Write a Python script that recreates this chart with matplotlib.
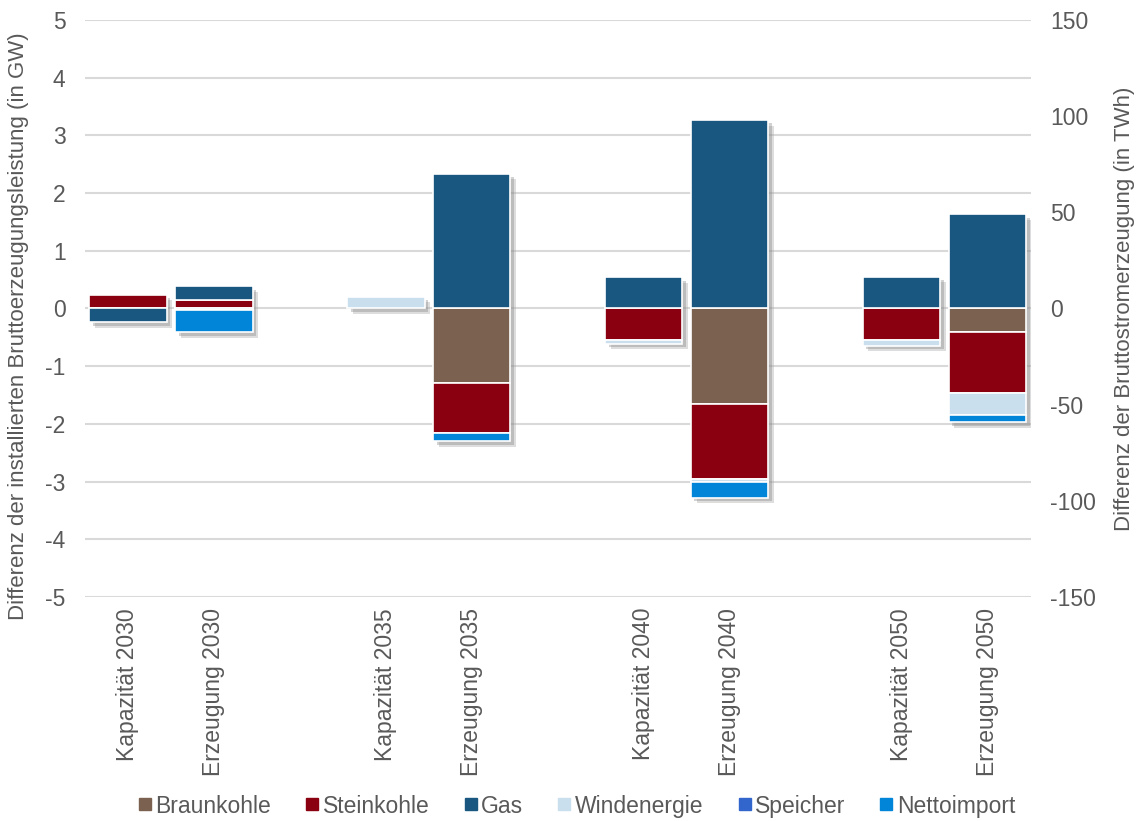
import matplotlib
matplotlib.use('Agg')
import matplotlib.pyplot as plt
import matplotlib.patheffects as pe
import numpy as np

plt.rcParams['font.family'] = ['Liberation Sans', 'DejaVu Sans']
plt.rcParams['axes.unicode_minus'] = False

# ---------------- data ----------------
categories = ['Kapazität 2030', 'Erzeugung 2030', '',
              'Kapazität 2035', 'Erzeugung 2035', '',
              'Kapazität 2040', 'Erzeugung 2040', '',
              'Kapazität 2050', 'Erzeugung 2050']
series = ['Braunkohle', 'Steinkohle', 'Gas', 'Windenergie', 'Speicher', 'Nettoimport']
colors = ['#7B6150', '#8A0010', '#1A5780', '#C9DFEE', '#3366CC', '#0085D8']

years = ['2030', '2035', '2040', '2050']
# Kapazität (GW), left axis
kap_braunkohle = [0.0, 0.0, 0.0, 0.0]
kap_steinkohle = [0.24, 0.0, -0.54, -0.55]
kap_gas = [-0.24, 0.0, 0.54, 0.55]
kap_wind = [0.0, 0.2, -0.07, -0.1]
kap_speicher = [0.0, 0.0, 0.0, 0.0]
kap_netto = [0.0, 0.0, 0.0, 0.0]
# Erzeugung (TWh), right axis
erz_braunkohle = [0.0, -39.0, -49.5, -12.0]
erz_steinkohle = [4.5, -26.0, -39.0, -32.0]
erz_gas = [7.0, 70.0, 98.0, 49.0]
erz_wind = [-1.0, 0.0, -1.5, -11.5]
erz_speicher = [0.0, 0.0, 0.0, 0.0]
erz_netto = [-11.5, -4.0, -8.5, -3.7]

left_ticks = [5, 4, 3, 2, 1, 0, -1, -2, -3, -4, -5]
right_ticks = [150, 100, 50, 0, -50, -100, -150]

kap_data = [kap_braunkohle, kap_steinkohle, kap_gas, kap_wind, kap_speicher, kap_netto]
erz_data = [erz_braunkohle, erz_steinkohle, erz_gas, erz_wind, erz_speicher, erz_netto]

kap_pos = [categories.index('Kapazität ' + y) for y in years]
erz_pos = [categories.index('Erzeugung ' + y) for y in years]

# ---------------- figure ----------------
fig = plt.figure(figsize=(11.42, 8.21), dpi=100)
ax1 = fig.add_axes([0.0744, 0.273, 0.828, 0.7026])
ax2 = ax1.twinx()

txt = '#595959'
FS = 16.5
W = 0.9


def draw_stack(ax, pos, data):
    arr = np.array(data, dtype=float)  # series x years
    pos_tot = np.where(arr > 0, arr, 0).sum(axis=0)
    neg_tot = np.where(arr < 0, arr, 0).sum(axis=0)
    # soft shadow of whole bar
    ax.bar(pos, pos_tot - neg_tot, bottom=neg_tot, width=W, color='white',
           edgecolor='none', zorder=1,
           path_effects=[pe.SimplePatchShadow(offset=(4, -4), shadow_rgbFace='#A0A0A0', alpha=0.35),
                         pe.SimplePatchShadow(offset=(2.5, -2.5), shadow_rgbFace='#808080', alpha=0.35),
                         pe.Normal()])
    pb = np.zeros(arr.shape[1])
    nb = np.zeros(arr.shape[1])
    for i, name in enumerate(series):
        v = arr[i]
        for j in range(len(v)):
            if v[j] == 0:
                continue
            if v[j] > 0:
                b = pb[j]
                pb[j] += v[j]
            else:
                b = nb[j]
                nb[j] += v[j]
            ax.bar(pos[j], v[j], bottom=b, width=W, color=colors[i],
                   edgecolor='white', linewidth=1.2, zorder=2)


draw_stack(ax1, kap_pos, kap_data)
draw_stack(ax2, erz_pos, erz_data)

ax1.set_xlim(-0.5, len(categories) - 0.5)
ax1.set_ylim(-5, 5)
ax2.set_ylim(-150, 150)
ax1.set_yticks(left_ticks)
ax2.set_yticks(right_ticks)
ax1.set_yticklabels([str(t) for t in left_ticks])
ax2.set_yticklabels([str(t) for t in right_ticks])

ax1.set_xticks(range(len(categories)))
ax1.set_xticklabels(categories, rotation=90, fontsize=FS, color=txt)
ax1.tick_params(axis='x', length=0, pad=8)
ax1.tick_params(axis='y', length=0, pad=14, labelsize=FS, labelcolor=txt)
ax2.tick_params(axis='y', length=0, pad=14, labelsize=FS, labelcolor=txt)

ax1.yaxis.grid(True, color='#D9D9D9', linewidth=1.5, zorder=0)
ax1.set_axisbelow(True)
for ax in (ax1, ax2):
    for s in ax.spines.values():
        s.set_visible(False)

ax1.set_ylabel('Differenz der installierten Bruttoerzeugungsleistung (in GW)',
               fontsize=16, color=txt)
ax1.yaxis.set_label_coords(-0.059, 0.47)
ax2.set_ylabel('Differenz der Bruttostromerzeugung (in TWh)',
               fontsize=16, color=txt, rotation=90)
ax2.yaxis.set_label_coords(1.088, 0.5)

handles = [plt.Line2D([], [], marker='s', linestyle='none', markersize=9,
                      markerfacecolor=c, markeredgecolor=c) for c in colors]
fig.legend(handles, series, loc='center', bbox_to_anchor=(0.505, 1 - 806 / 821),
           ncol=6, frameon=False, fontsize=FS, labelcolor=txt,
           handlelength=0.6, handletextpad=0.15, columnspacing=1.5)

fig.savefig('out.png', dpi=100)
